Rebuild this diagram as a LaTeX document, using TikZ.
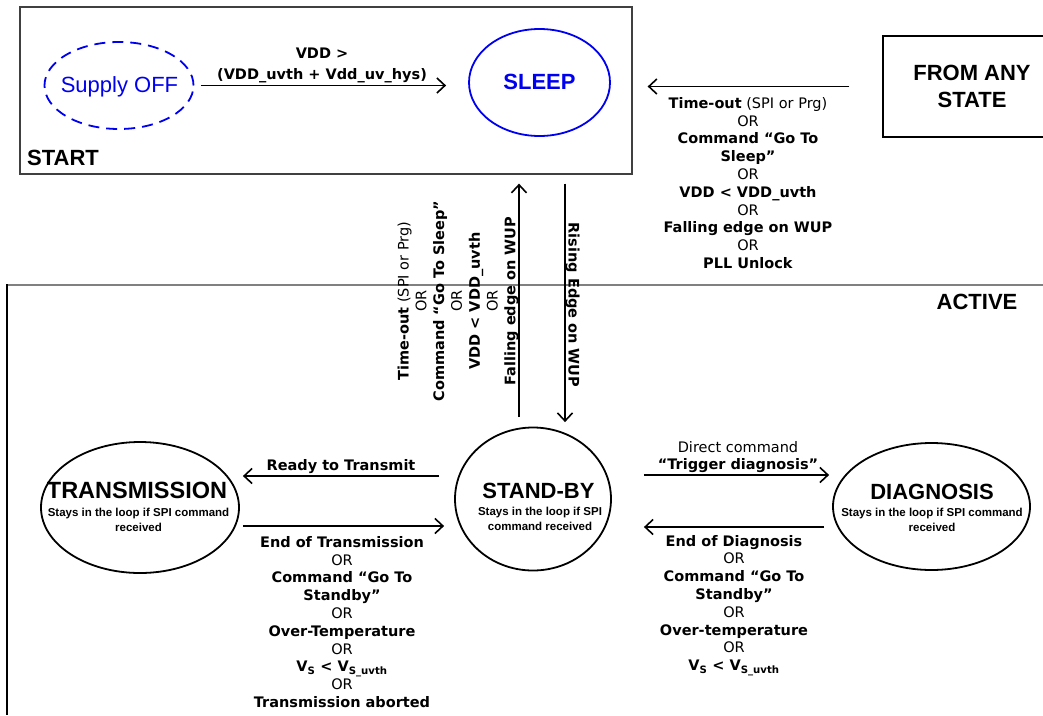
\documentclass[tikz,border=0pt]{standalone}
\usepackage{fontspec}
\setmainfont{DejaVu Sans}
\newfontfamily\arial{Liberation Sans}
\usetikzlibrary{arrows.meta,shapes.geometric,calc}
\definecolor{stblue}{RGB}{0,0,240}
\definecolor{framegray}{RGB}{64,64,64}
\definecolor{activegray}{RGB}{128,128,128}
\begin{document}
\begin{tikzpicture}[x=1pt,y=-1pt,
  lbl/.style={font=\fontsize{14.5}{17.8}\selectfont, align=center, inner sep=0pt},
  arr/.style={line width=1.8pt, -{Straight Barb[length=8pt,width=15pt,line width=1.6pt]}},
  st/.style={ellipse, draw, line width=1.8pt, inner sep=0pt},
  ttl/.style={font=\arial\bfseries\fontsize{22}{27}\selectfont, inner sep=0pt},
  sub/.style={font=\arial\bfseries\fontsize{11.5}{14.5}\selectfont, align=center, inner sep=0pt},
  boxframe/.style={draw=framegray, line width=1.3pt, inner sep=0pt}
]
\useasboundingbox (0,0) rectangle (1043,715);
\clip (0,0) rectangle (1043,715);
\fill[white] (0,0) rectangle (1043,715);

% START region
\node[boxframe, minimum width=612pt, minimum height=167pt] (startbox) at (326,90.5) {};
\node[ttl, anchor=base west] (starttxt) at (27,165) {START};
\node[st, draw=stblue, dash pattern=on 11pt off 7pt, minimum width=149pt, minimum height=87pt] (supply) at (119,85.5) {};
\node[font=\arial\fontsize{22}{27}\selectfont, text=stblue, inner sep=0pt, anchor=base] (supplytxt) at (119.5,92) {Supply OFF};
\node[st, draw=stblue, minimum width=141pt, minimum height=107pt] (sleep) at (539.5,82.5) {};
\node[ttl, text=stblue, anchor=base] (sleeptxt) at (539.5,89) {SLEEP};

% FROM ANY STATE
\node[draw=black, line width=1.3pt, minimum width=178pt, minimum height=101pt, align=center, font=\arial\bfseries\fontsize{22}{27}\selectfont, inner sep=0pt] (fromany) at (972,86.5) {FROM ANY\\STATE};

% ACTIVE region
\draw[activegray, line width=1.8pt] (7,285) -- (1043,285);
\draw[black, line width=1.5pt] (7,284.1) -- (7,715);
\node[ttl, anchor=base] (activetxt) at (977,309) {ACTIVE};

% states
\node[st, minimum width=198pt, minimum height=131pt] (trans) at (140,507.5) {};
\node[ttl, font=\arial\bfseries\fontsize{23.5}{27}\selectfont, anchor=base] (transttl) at (137,498) {TRANSMISSION};
\node[sub] (transsub) at (138.5,520) {Stays in the loop if SPI command\\received};

\node[st, minimum width=156pt, minimum height=143pt] (standby) at (533,499) {};
\node[ttl, anchor=base] (sbttl) at (538.5,498) {STAND-BY};
\node[sub] (sbsub) at (540,519) {Stays in the loop if SPI\\command received};

\node[st, minimum width=197pt, minimum height=127pt] (diag) at (931.5,506.5) {};
\node[ttl, anchor=base] (diagttl) at (932,499.5) {DIAGNOSIS};
\node[sub] (diagsub) at (932,520) {Stays in the loop if SPI command\\received};

% Supply OFF -> SLEEP
\draw[arr] ($(supply.east)+(6.5,0)$) -- ($(sleep.west |- supply.east)+(-22,0)$);
\node[lbl, anchor=base] (vdd1) at (322,58) {\textbf{VDD >}};
\node[lbl, anchor=base] (vdd2) at (322,79) {\textbf{(VDD\_uvth + Vdd\_uv\_hys)}};

% FROM ANY -> SLEEP
\draw[arr] ($(fromany.west)+(-33,0)$) -- ($(startbox.east |- fromany.west)+(15,0)$);
\node[lbl] (fromanylbl) at (748,183) {\textbf{Time-out} (SPI or Prg)\\OR\\\textbf{Command “Go To}\\\textbf{Sleep”}\\OR\\\textbf{VDD < VDD\_uvth}\\OR\\\textbf{Falling edge on WUP}\\OR\\\textbf{PLL Unlock}};

% STAND-BY <-> SLEEP
\draw[arr] ($(standby.north)+(-14,-9.5)$) -- ($(startbox.south)+(193,9)$);
\draw[arr] ($(startbox.south)+(239,9)$) -- ($(standby.north)+(32,-4.5)$);
\node[lbl, rotate=90] (sleeplbl) at (458,301) {\textbf{Time-out} (SPI or Prg)\\OR\\\textbf{Command “Go To Sleep”}\\OR\\\textbf{VDD < VDD\_uvth}\\OR\\\textbf{Falling edge on WUP}};
\node[lbl, rotate=-90] (wuplbl) at (572.5,305) {\textbf{Rising Edge on WUP}};

% STAND-BY <-> TRANSMISSION
\draw[arr] ($(standby.west)+(-15,-23)$) -- ($(trans.east)+(3,-31.5)$);
\node[lbl, anchor=base] (readylbl) at (341,470) {\textbf{Ready to Transmit}};
\draw[arr] ($(trans.east)+(3,18.5)$) -- ($(standby.west)+(-10,27)$);
\node[lbl] (endtranslbl) at (342,622) {\textbf{End of Transmission}\\OR\\\textbf{Command “Go To}\\\textbf{Standby”}\\OR\\\textbf{Over-Temperature}\\OR\\\textbf{V\textsubscript{S} < V\textsubscript{S\_uvth}}\\OR\\\textbf{Transmission aborted}};

% STAND-BY <-> DIAGNOSIS
\draw[arr] ($(standby.east)+(32,-24)$) -- ($(diag.west)+(-3,-31.5)$);
\node[lbl, font=\fontsize{14.5}{17}\selectfont] (triglbl) at (738,457) {Direct command\\\textbf{“Trigger diagnosis”}};
\draw[arr] ($(diag.west)+(-8,20.5)$) -- ($(standby.east)+(32,28)$);
\node[lbl] (enddiaglbl) at (734,605.5) {\textbf{End of Diagnosis}\\OR\\\textbf{Command “Go To}\\\textbf{Standby”}\\OR\\\textbf{Over-temperature}\\OR\\\textbf{V\textsubscript{S} < V\textsubscript{S\_uvth}}};
\end{tikzpicture}
\end{document}
